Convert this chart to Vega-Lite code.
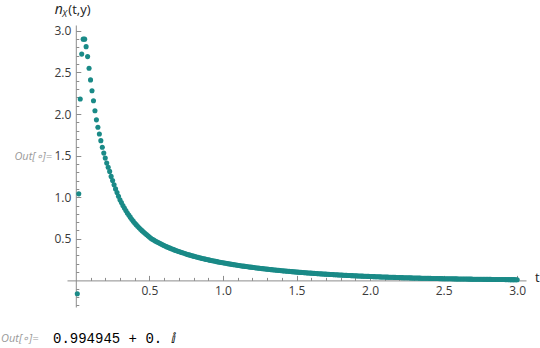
{
  "$schema": "https://vega.github.io/schema/vega-lite/v6.json",
  "autosize": {"type": "none"},
  "padding": {"left": 67, "top": 25, "right": 14, "bottom": 41},
  "width": 459,
  "height": 282,
  "background": "white",
  "config": {"view": {"stroke": null}, "axis": {"labelOverlap": false, "labelFlush": false, "grid": false, "title": null, "domainColor": "#8c8c8c", "tickColor": "#8c8c8c", "domainWidth": 1, "tickWidth": 1, "labelColor": "#3a3a3a", "labelFont": "Open Sans", "labelFontSize": 12}},
  "resolve": {"axis": {"x": "independent", "y": "independent"}},
  "layer": [
    {
      "data": {"values": [
        {"t":0.01,"n":-0.16},{"t":0.02,"n":1.04},{"t":0.03,"n":2.18},{"t":0.04,"n":2.72},{"t":0.05,"n":2.9},{"t":0.06,"n":2.9},{"t":0.07,"n":2.81},{"t":0.08,"n":2.69},{"t":0.09,"n":2.55},{"t":0.1,"n":2.41},
        {"t":0.11,"n":2.28},{"t":0.12,"n":2.16},{"t":0.13,"n":2.04},{"t":0.14,"n":1.93},{"t":0.15,"n":1.84},{"t":0.16,"n":1.76},{"t":0.17,"n":1.68},{"t":0.18,"n":1.6},{"t":0.19,"n":1.53},{"t":0.2,"n":1.47},
        {"t":0.21,"n":1.41},{"t":0.22,"n":1.36},{"t":0.23,"n":1.31},{"t":0.24,"n":1.25},{"t":0.25,"n":1.2},{"t":0.26,"n":1.15},{"t":0.27,"n":1.1},{"t":0.28,"n":1.055},{"t":0.29,"n":1.01},{"t":0.3,"n":0.97},
        {"t":0.31,"n":0.935},{"t":0.32,"n":0.9},{"t":0.33,"n":0.87},{"t":0.34,"n":0.84},{"t":0.35,"n":0.81},{"t":0.36,"n":0.785},{"t":0.37,"n":0.76},{"t":0.38,"n":0.735},{"t":0.39,"n":0.712},{"t":0.4,"n":0.69},
        {"t":0.41,"n":0.67},{"t":0.42,"n":0.65},{"t":0.43,"n":0.632},{"t":0.44,"n":0.615},{"t":0.45,"n":0.598},{"t":0.46,"n":0.582},{"t":0.47,"n":0.566},{"t":0.48,"n":0.551},{"t":0.49,"n":0.536},{"t":0.5,"n":0.521},
        {"t":0.51,"n":0.5063},{"t":0.52,"n":0.4952},{"t":0.53,"n":0.4845},{"t":0.54,"n":0.4741},{"t":0.55,"n":0.4641},{"t":0.56,"n":0.4545},{"t":0.57,"n":0.4452},{"t":0.58,"n":0.4361},{"t":0.59,"n":0.4274},{"t":0.6,"n":0.4189},
        {"t":0.61,"n":0.4107},{"t":0.62,"n":0.4027},{"t":0.63,"n":0.395},{"t":0.64,"n":0.3875},{"t":0.65,"n":0.3802},{"t":0.66,"n":0.3731},{"t":0.67,"n":0.3662},{"t":0.68,"n":0.3595},{"t":0.69,"n":0.353},{"t":0.7,"n":0.3467},
        {"t":0.71,"n":0.3405},{"t":0.72,"n":0.3345},{"t":0.73,"n":0.3286},{"t":0.74,"n":0.3229},{"t":0.75,"n":0.3173},{"t":0.76,"n":0.3118},{"t":0.77,"n":0.3065},{"t":0.78,"n":0.3013},{"t":0.79,"n":0.2963},{"t":0.8,"n":0.2913},
        {"t":0.81,"n":0.2865},{"t":0.82,"n":0.2817},{"t":0.83,"n":0.2771},{"t":0.84,"n":0.2726},{"t":0.85,"n":0.2681},{"t":0.86,"n":0.2638},{"t":0.87,"n":0.2595},{"t":0.88,"n":0.2554},{"t":0.89,"n":0.2513},{"t":0.9,"n":0.2473},
        {"t":0.91,"n":0.2434},{"t":0.92,"n":0.2396},{"t":0.93,"n":0.2358},{"t":0.94,"n":0.2321},{"t":0.95,"n":0.2285},{"t":0.96,"n":0.225},{"t":0.97,"n":0.2215},{"t":0.98,"n":0.2181},{"t":0.99,"n":0.2147},{"t":1.0,"n":0.2115},
        {"t":1.01,"n":0.2082},{"t":1.02,"n":0.2051},{"t":1.03,"n":0.2019},{"t":1.04,"n":0.1989},{"t":1.05,"n":0.1959},{"t":1.06,"n":0.1929},{"t":1.07,"n":0.19},{"t":1.08,"n":0.1872},{"t":1.09,"n":0.1844},{"t":1.1,"n":0.1816},
        {"t":1.11,"n":0.1789},{"t":1.12,"n":0.1763},{"t":1.13,"n":0.1736},{"t":1.14,"n":0.1711},{"t":1.15,"n":0.1685},{"t":1.16,"n":0.166},{"t":1.17,"n":0.1636},{"t":1.18,"n":0.1612},{"t":1.19,"n":0.1588},{"t":1.2,"n":0.1565},
        {"t":1.21,"n":0.1542},{"t":1.22,"n":0.1519},{"t":1.23,"n":0.1497},{"t":1.24,"n":0.1475},{"t":1.25,"n":0.1453},{"t":1.26,"n":0.1432},{"t":1.27,"n":0.1411},{"t":1.28,"n":0.139},{"t":1.29,"n":0.137},{"t":1.3,"n":0.135},
        {"t":1.31,"n":0.133},{"t":1.32,"n":0.1311},{"t":1.33,"n":0.1292},{"t":1.34,"n":0.1273},{"t":1.35,"n":0.1254},{"t":1.36,"n":0.1236},{"t":1.37,"n":0.1218},{"t":1.38,"n":0.12},{"t":1.39,"n":0.1183},{"t":1.4,"n":0.1166},
        {"t":1.41,"n":0.1148},{"t":1.42,"n":0.1132},{"t":1.43,"n":0.1115},{"t":1.44,"n":0.1099},{"t":1.45,"n":0.1083},{"t":1.46,"n":0.1067},{"t":1.47,"n":0.1051},{"t":1.48,"n":0.1036},{"t":1.49,"n":0.1021},{"t":1.5,"n":0.1006},
        {"t":1.51,"n":0.0991},{"t":1.52,"n":0.0977},{"t":1.53,"n":0.0962},{"t":1.54,"n":0.0948},{"t":1.55,"n":0.0934},{"t":1.56,"n":0.092},{"t":1.57,"n":0.0907},{"t":1.58,"n":0.0893},{"t":1.59,"n":0.088},{"t":1.6,"n":0.0867},
        {"t":1.61,"n":0.0854},{"t":1.62,"n":0.0842},{"t":1.63,"n":0.0829},{"t":1.64,"n":0.0817},{"t":1.65,"n":0.0805},{"t":1.66,"n":0.0793},{"t":1.67,"n":0.0781},{"t":1.68,"n":0.077},{"t":1.69,"n":0.0758},{"t":1.7,"n":0.0747},
        {"t":1.71,"n":0.0736},{"t":1.72,"n":0.0725},{"t":1.73,"n":0.0714},{"t":1.74,"n":0.0703},{"t":1.75,"n":0.0692},{"t":1.76,"n":0.0682},{"t":1.77,"n":0.0672},{"t":1.78,"n":0.0662},{"t":1.79,"n":0.0651},{"t":1.8,"n":0.0642},
        {"t":1.81,"n":0.0632},{"t":1.82,"n":0.0622},{"t":1.83,"n":0.0613},{"t":1.84,"n":0.0603},{"t":1.85,"n":0.0594},{"t":1.86,"n":0.0585},{"t":1.87,"n":0.0576},{"t":1.88,"n":0.0567},{"t":1.89,"n":0.0559},{"t":1.9,"n":0.055},
        {"t":1.91,"n":0.0542},{"t":1.92,"n":0.0533},{"t":1.93,"n":0.0525},{"t":1.94,"n":0.0517},{"t":1.95,"n":0.0509},{"t":1.96,"n":0.0501},{"t":1.97,"n":0.0493},{"t":1.98,"n":0.0485},{"t":1.99,"n":0.0478},{"t":2.0,"n":0.047},
        {"t":2.01,"n":0.0463},{"t":2.02,"n":0.0456},{"t":2.03,"n":0.0449},{"t":2.04,"n":0.0441},{"t":2.05,"n":0.0434},{"t":2.06,"n":0.0428},{"t":2.07,"n":0.0421},{"t":2.08,"n":0.0414},{"t":2.09,"n":0.0408},{"t":2.1,"n":0.0401},
        {"t":2.11,"n":0.0395},{"t":2.12,"n":0.0388},{"t":2.13,"n":0.0382},{"t":2.14,"n":0.0376},{"t":2.15,"n":0.037},{"t":2.16,"n":0.0364},{"t":2.17,"n":0.0358},{"t":2.18,"n":0.0352},{"t":2.19,"n":0.0346},{"t":2.2,"n":0.0341},
        {"t":2.21,"n":0.0335},{"t":2.22,"n":0.033},{"t":2.23,"n":0.0324},{"t":2.24,"n":0.0319},{"t":2.25,"n":0.0314},{"t":2.26,"n":0.0309},{"t":2.27,"n":0.0304},{"t":2.28,"n":0.0299},{"t":2.29,"n":0.0294},{"t":2.3,"n":0.0289},
        {"t":2.31,"n":0.0284},{"t":2.32,"n":0.0279},{"t":2.33,"n":0.0275},{"t":2.34,"n":0.027},{"t":2.35,"n":0.0265},{"t":2.36,"n":0.0261},{"t":2.37,"n":0.0257},{"t":2.38,"n":0.0252},{"t":2.39,"n":0.0248},{"t":2.4,"n":0.0244},
        {"t":2.41,"n":0.024},{"t":2.42,"n":0.0235},{"t":2.43,"n":0.0231},{"t":2.44,"n":0.0227},{"t":2.45,"n":0.0224},{"t":2.46,"n":0.022},{"t":2.47,"n":0.0216},{"t":2.48,"n":0.0212},{"t":2.49,"n":0.0209},{"t":2.5,"n":0.0205},
        {"t":2.51,"n":0.0201},{"t":2.52,"n":0.0198},{"t":2.53,"n":0.0194},{"t":2.54,"n":0.0191},{"t":2.55,"n":0.0188},{"t":2.56,"n":0.0184},{"t":2.57,"n":0.0181},{"t":2.58,"n":0.0178},{"t":2.59,"n":0.0175},{"t":2.6,"n":0.0172},
        {"t":2.61,"n":0.0169},{"t":2.62,"n":0.0166},{"t":2.63,"n":0.0163},{"t":2.64,"n":0.016},{"t":2.65,"n":0.0157},{"t":2.66,"n":0.0154},{"t":2.67,"n":0.0151},{"t":2.68,"n":0.0149},{"t":2.69,"n":0.0146},{"t":2.7,"n":0.0143},
        {"t":2.71,"n":0.0141},{"t":2.72,"n":0.0138},{"t":2.73,"n":0.0136},{"t":2.74,"n":0.0133},{"t":2.75,"n":0.0131},{"t":2.76,"n":0.0128},{"t":2.77,"n":0.0126},{"t":2.78,"n":0.0124},{"t":2.79,"n":0.0121},{"t":2.8,"n":0.0119},
        {"t":2.81,"n":0.0117},{"t":2.82,"n":0.0115},{"t":2.83,"n":0.0113},{"t":2.84,"n":0.011},{"t":2.85,"n":0.0108},{"t":2.86,"n":0.0106},{"t":2.87,"n":0.0104},{"t":2.88,"n":0.0102},{"t":2.89,"n":0.01},{"t":2.9,"n":0.0099},
        {"t":2.91,"n":0.0097},{"t":2.92,"n":0.0095},{"t":2.93,"n":0.0093},{"t":2.94,"n":0.0091},{"t":2.95,"n":0.009},{"t":2.96,"n":0.0088},{"t":2.97,"n":0.0086},{"t":2.98,"n":0.0085},{"t":2.99,"n":0.0083},{"t":3.0,"n":0.0081}
      ]},
      "mark": {"type": "point", "filled": true, "opacity": 1, "size": 26, "color": "#1a8a87", "strokeWidth": 0},
      "encoding": {
        "x": {
          "field": "t", "type": "quantitative",
          "scale": {"domain": [-0.06, 3.06], "nice": false, "zero": false},
          "axis": {
            "orient": "bottom", "offset": -26.6,
            "values": [0.5, 1.0, 1.5, 2.0, 2.5, 3.0],
            "format": ".1f",
            "tickSize": -5,
            "labelPadding": 10
          }
        },
        "y": {
          "field": "n", "type": "quantitative",
          "scale": {"domain": [-0.32, 3.07], "nice": false, "zero": false},
          "axis": {
            "orient": "left", "offset": -8.8,
            "values": [0.5, 1.0, 1.5, 2.0, 2.5, 3.0],
            "format": ".1f",
            "tickSize": -5,
            "labelPadding": 10
          }
        }
      }
    },
    {
      "data": {"values": [{}]},
      "mark": {"type": "text", "text": "t", "align": "left", "baseline": "middle", "dx": 9, "dy": -2, "font": "Open Sans", "fontSize": 13, "color": "#222222"},
      "encoding": {
        "x": {"datum": 3.06, "type": "quantitative", "axis": {
          "orient": "bottom", "offset": -26.6, "domain": false, "labels": false,
          "values": [0.1,0.2,0.3,0.4,0.6,0.7,0.8,0.9,1.1,1.2,1.3,1.4,1.6,1.7,1.8,1.9,2.1,2.2,2.3,2.4,2.6,2.7,2.8,2.9],
          "tickSize": -3
        }},
        "y": {"datum": 0, "type": "quantitative", "axis": {
          "orient": "left", "offset": -8.8, "domain": false, "labels": false,
          "values": [-0.3,-0.2,-0.1,0.1,0.2,0.3,0.4,0.6,0.7,0.8,0.9,1.1,1.2,1.3,1.4,1.6,1.7,1.8,1.9,2.1,2.2,2.3,2.4,2.6,2.7,2.8,2.9],
          "tickSize": -3
        }}
      }
    },
    {
      "data": {"values": [{}]},
      "mark": {"type": "text", "text": "n", "align": "left", "baseline": "alphabetic", "dx": -21, "dy": -11, "font": "Open Sans", "fontStyle": "italic", "fontSize": 14, "color": "#222222"},
      "encoding": {"x": {"datum": 0, "type": "quantitative", "axis": null}, "y": {"datum": 3.07, "type": "quantitative", "axis": null}}
    },
    {
      "data": {"values": [{}]},
      "mark": {"type": "text", "text": "X", "align": "left", "baseline": "alphabetic", "dx": -13.5, "dy": -8.5, "font": "Open Sans", "fontStyle": "italic", "fontSize": 9, "color": "#222222"},
      "encoding": {"x": {"datum": 0, "type": "quantitative", "axis": null}, "y": {"datum": 3.07, "type": "quantitative", "axis": null}}
    },
    {
      "data": {"values": [{}]},
      "mark": {"type": "text", "text": "(t,y)", "align": "left", "baseline": "alphabetic", "dx": -7.5, "dy": -11, "font": "Open Sans", "fontSize": 13, "color": "#222222"},
      "encoding": {"x": {"datum": 0, "type": "quantitative", "axis": null}, "y": {"datum": 3.07, "type": "quantitative", "axis": null}}
    },
    {
      "data": {"values": [{}]},
      "mark": {"type": "text", "text": "Out[∘]=", "align": "right", "baseline": "middle", "dx": -15, "dy": 1, "font": "Open Sans", "fontStyle": "italic", "fontSize": 11, "color": "#9a9a9a"},
      "encoding": {"x": {"datum": -0.06, "type": "quantitative", "axis": null}, "y": {"datum": 1.5, "type": "quantitative", "axis": null}}
    },
    {
      "data": {"values": [{}]},
      "mark": {"type": "text", "text": "Out[∘]=", "align": "left", "baseline": "middle", "dx": -66, "dy": 32, "font": "Open Sans", "fontStyle": "italic", "fontSize": 11, "color": "#9a9a9a"},
      "encoding": {"x": {"datum": -0.06, "type": "quantitative", "axis": null}, "y": {"datum": -0.32, "type": "quantitative", "axis": null}}
    },
    {
      "data": {"values": [{}]},
      "mark": {"type": "text", "text": "0.994945 + 0. ⅈ", "align": "left", "baseline": "middle", "dx": -14, "dy": 32, "font": "Liberation Mono", "fontSize": 14, "color": "#000000"},
      "encoding": {"x": {"datum": -0.06, "type": "quantitative", "axis": null}, "y": {"datum": -0.32, "type": "quantitative", "axis": null}}
    }
  ]
}
